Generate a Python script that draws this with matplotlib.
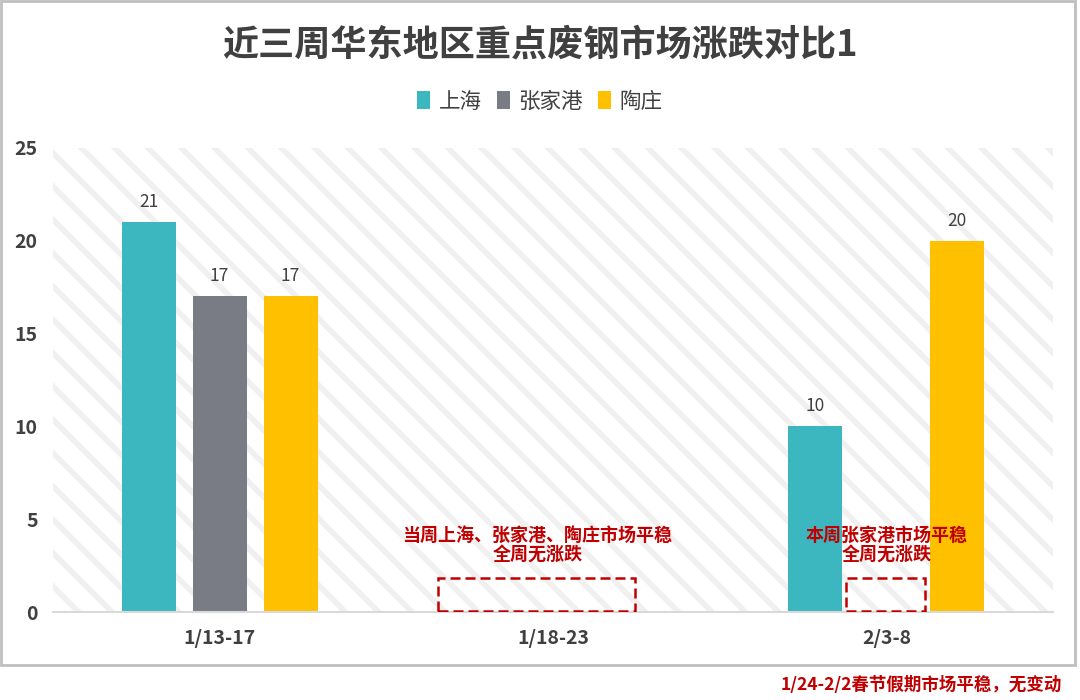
import matplotlib
matplotlib.use("Agg")
import matplotlib.pyplot as plt
import numpy as np
from matplotlib.patches import Rectangle

plt.rcParams['font.family'] = ['Noto Sans CJK SC', 'DejaVu Sans']
plt.rcParams['hatch.linewidth'] = 4.0

title = "近三周华东地区重点废钢市场涨跌对比1"
categories = ["1/13-17", "1/18-23", "2/3-8"]
series_names = ["上海", "张家港", "陶庄"]
shanghai = [21, 0, 10]
zhangjiagang = [17, 0, 0]
taozhuang = [17, 0, 20]
colors = ["#3CB7BF", "#7A7C85", "#FFC000"]
note_mid = "当周上海、张家港、陶庄市场平稳\n全周无涨跌"
note_right = "本周张家港市场平稳\n全周无涨跌"
footnote = "1/24-2/2春节假期市场平稳，无变动"

fig = plt.figure(figsize=(10.8, 7), dpi=100)
ax = fig.add_axes([0.049, 0.1257, 0.926, 0.663])

# hatched background
bg = Rectangle((0, 0), 1, 1, transform=ax.transAxes, facecolor="white",
               hatch="\\", edgecolor="#F0F0F0", linewidth=0, zorder=0)
ax.add_patch(bg)

x = np.arange(len(categories))
w = 0.162
off = 0.213
all_series = [shanghai, zhangjiagang, taozhuang]
for i, (vals, name, c) in enumerate(zip(all_series, series_names, colors)):
    pos = x + (i - 1) * off
    ax.bar(pos, vals, width=w, color=c, label=name, zorder=3)
    for p, v in zip(pos, vals):
        if v:
            ax.text(p, v + 0.6, f"{v}", ha="center", va="bottom", fontsize=12.5,
                    color="#404040", zorder=4)

ax.set_xlim(-0.5, 2.5)
ax.set_ylim(0, 25)
ax.set_yticks([0, 5, 10, 15, 20, 25])
ax.set_xticks(x)
ax.set_xticklabels(categories)
for lbl in ax.get_xticklabels() + ax.get_yticklabels():
    lbl.set_fontweight("bold")
    lbl.set_fontsize(14)
    lbl.set_color("#404040")
ax.tick_params(axis="both", length=0)
ax.tick_params(axis="x", pad=12)
ax.tick_params(axis="y", pad=11)
for s in ["top", "right", "left"]:
    ax.spines[s].set_visible(False)
ax.spines["bottom"].set_color("#D9D9D9")
ax.spines["bottom"].set_linewidth(1.5)
ax.spines["bottom"].set_zorder(5)

# dashed boxes
ax.add_patch(Rectangle((0.655, 0.05), 0.59, 1.78, fill=False, edgecolor="#C00000",
                       linestyle=(0, (4, 2)), linewidth=1.8, zorder=6))
ax.add_patch(Rectangle((1.88, 0.05), 0.237, 1.78, fill=False, edgecolor="#C00000",
                       linestyle=(0, (4, 2)), linewidth=1.8, zorder=6))

ax.text(0.953, 3.6, note_mid, ha="center", va="center", fontsize=13,
        fontweight="bold", color="#C00000", linespacing=1.1, zorder=7)
ax.text(2.0, 3.6, note_right, ha="center", va="center", fontsize=13,
        fontweight="bold", color="#C00000", linespacing=1.1, zorder=7)

fig.text(0.5, 0.935, title, ha="center", va="center", fontsize=26,
         fontweight="black", color="#404040")

handles, labels = ax.get_legend_handles_labels()
leg = fig.legend(handles, labels, loc="center", bbox_to_anchor=(0.5, 0.855),
                 ncol=3, frameon=False, fontsize=15.5, handlelength=0.6,
                 handleheight=0.9, handletextpad=0.4, columnspacing=0.7)
for t in leg.get_texts():
    t.set_color("#404040")

fig.text(0.983, 0.021, footnote, ha="right", va="center", fontsize=12.6,
         fontweight="bold", color="#C00000")

# outer frame
fig.add_artist(Rectangle((0.001, 0.05), 0.994, 0.948, transform=fig.transFigure,
                         fill=False, edgecolor="#BFBFBF", linewidth=2))

fig.savefig("out.png", dpi=100, facecolor="white")
